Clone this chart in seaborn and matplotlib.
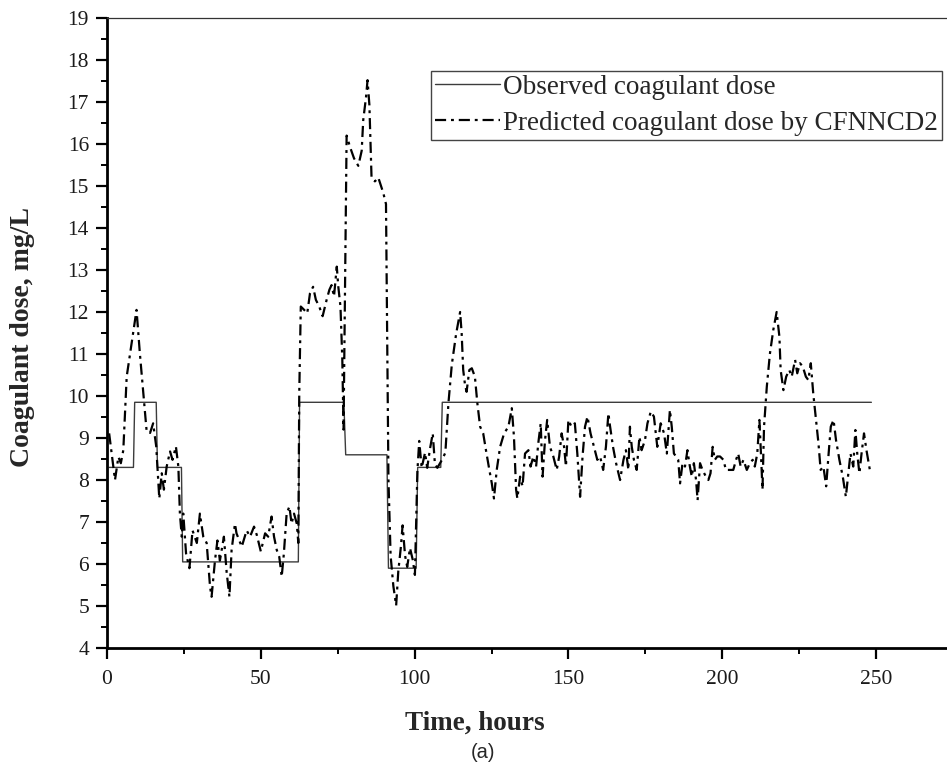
import numpy as np
import pandas as pd
import seaborn as sns
import matplotlib
matplotlib.use("Agg")
import matplotlib.pyplot as plt
from matplotlib.ticker import MultipleLocator

# ---------------- data ----------------
obs_time = [0.7, 8.6, 9.0, 16.0, 16.4, 24.2, 24.6, 62.2, 62.6, 77.0, 77.6,
            91.0, 91.5, 100.5, 101.0, 108.5, 109.0, 248.5]
obs_dose = [8.3, 8.3, 9.85, 9.85, 8.3, 8.3, 6.05, 6.05, 9.85, 9.85, 8.6,
            8.6, 5.9, 5.9, 8.3, 8.3, 9.85, 9.85]

pred_time = [0.7, 2.6, 3.7, 4.5, 5.3, 6.4, 8.0, 9.6, 10.7, 11.8, 12.9, 14.0, 15.0,
             16.0, 17.0, 17.8, 18.5, 19.4, 20.5, 21.3, 22.4, 23.2, 23.7, 24.3,
             24.8, 25.7, 26.8, 27.8, 29.2, 30.2, 31.3, 32.4, 33.5, 34.0, 35.1,
             35.9, 36.7, 38.0, 38.9, 39.8, 40.5, 41.6, 42.1, 43.8, 45.4, 46.5,
             47.8, 48.7, 50.0, 51.4, 52.4, 53.5, 54.3, 55.2, 56.0, 56.8, 57.5,
             58.4, 59.3, 60.0, 60.8, 61.7, 62.2, 62.5, 63.0, 64.1, 65.1, 66.0,
             67.0, 67.9, 69.0, 70.1, 71.4, 72.3, 73.0, 73.8, 74.7, 75.2, 75.9,
             76.5, 76.9, 77.9, 79.0, 80.3, 81.7, 82.8, 83.3, 84.2, 84.7, 85.3,
             86.0, 87.1, 88.2, 89.8, 90.7, 91.5, 92.2, 93.1, 94.0, 94.7, 95.5,
             96.1, 96.9, 97.6, 98.5, 99.4, 100.1, 100.9, 101.5, 102.3, 103.4,
             104.1, 105.0, 105.9, 106.6, 107.4, 108.9, 110.0, 111.0, 112.1,
             113.5, 114.8, 115.3, 115.8, 116.4, 116.9, 117.8, 118.6, 119.6,
             120.4, 121.3, 122.3, 123.2, 124.3, 125.1, 125.8, 126.7, 127.8,
             129.1, 130.5, 131.6, 132.3, 133.0, 133.4, 134.3, 135.1, 135.9,
             137.0, 137.7, 138.6, 139.5, 140.2, 141.0, 141.6, 142.4, 143.1,
             144.0, 145.1, 146.2, 147.0, 147.8, 148.6, 149.2, 150.0, 151.0,
             152.1, 152.9, 153.8, 154.6, 155.4, 156.2, 157.2, 158.3, 159.4,
             160.3, 161.3, 162.2, 163.0, 163.5, 164.5, 165.5, 166.8, 167.9,
             168.7, 169.5, 170.0, 170.6, 171.3, 172.2, 173.1, 173.8, 174.9,
             175.7, 176.8, 177.8, 178.9, 180.0, 181.1, 182.0, 183.0, 183.6,
             184.3, 185.0, 185.7, 186.3, 187.1, 187.9, 188.7, 189.3, 190.1,
             190.8, 191.5, 192.0, 192.8, 193.6, 194.7, 195.5, 196.2, 196.9,
             197.6, 198.4, 199.3, 200.4, 201.2, 202.5, 203.6, 204.5, 205.2,
             206.0, 206.9, 208.0, 209.0, 209.9, 210.6, 211.4, 212.1, 212.5,
             213.1, 213.6, 214.5, 215.5, 216.6, 217.7, 218.6, 219.0, 219.9,
             220.8, 221.8, 222.6, 223.7, 224.4, 225.3, 226.2, 227.2, 228.0,
             228.8, 229.6, 230.5, 231.3, 232.0, 232.9, 233.8, 234.6, 235.3,
             236.2, 237.0, 238.1, 239.2, 240.2, 241.0, 241.7, 242.6, 243.3,
             243.9, 244.6, 245.3, 246.1, 246.9, 248.0]
pred_dose = [9.11, 8.0, 8.55, 8.4, 8.71, 10.46, 11.25, 12.05, 11.0, 10.06, 9.15, 9.12, 9.35,
             8.8, 7.56, 8.16, 7.77, 8.32, 8.68, 8.48, 8.8, 8.32, 7.2, 6.65,
             7.2, 6.25, 5.9, 6.8, 6.5, 7.2, 6.65, 6.5, 5.46, 5.22, 6.08,
             6.56, 6.08, 6.65, 5.8, 5.22, 6.33, 6.96, 6.73, 6.41, 6.8, 6.65,
             6.89, 6.69, 6.3, 6.73, 6.65, 7.13, 6.65, 6.33, 6.17, 5.7, 6.25,
             7.2, 7.37, 6.96, 7.2, 6.96, 6.5, 10.06, 12.13, 12.05, 11.97, 12.45,
             12.6, 12.29, 12.13, 11.9, 12.29, 12.53, 12.64, 12.37, 13.08, 12.6, 12.13,
             10.87, 9.2, 16.2, 15.93, 15.66, 15.48, 15.84, 16.57, 17.11, 17.52, 16.93,
             15.2, 15.11, 15.2, 14.84, 14.57, 8.01, 6.2, 5.47, 5.01, 5.83, 6.38,
             6.92, 6.2, 5.93, 6.38, 6.1, 5.74, 8.2, 8.93, 8.29, 8.65,
             8.29, 8.74, 9.11, 8.38, 8.29, 8.48, 8.65, 9.83, 10.75,
             11.48, 12.0, 11.49, 10.62, 10.26, 10.1, 10.62, 10.66, 10.46,
             9.83, 9.27, 9.11, 8.71, 8.24, 7.92, 7.56, 8.24, 8.79,
             9.11, 9.27, 9.71, 9.03, 7.77, 7.56, 8.08, 7.85, 8.63,
             8.71, 8.32, 8.56, 8.32, 8.87, 9.35, 8.08, 8.95, 9.43,
             8.79, 8.56, 8.24, 8.56, 9.11, 8.79, 8.32, 9.43, 9.27,
             9.35, 8.63, 7.6, 8.56, 9.27, 9.51, 9.11, 8.79, 8.48,
             8.56, 8.24, 8.79, 9.59, 9.3, 8.79, 8.4, 8.0, 8.48,
             8.71, 8.24, 9.27, 8.79, 8.48, 8.24, 9.03, 8.71, 8.95,
             9.35, 9.63, 9.51, 8.79, 9.35, 9.11, 8.63, 9.67, 9.27,
             8.63, 8.56, 8.48, 7.92, 8.4, 8.32, 8.71, 8.4, 8.08,
             8.4, 8.0, 7.52, 8.4, 8.24, 8.08, 8.0, 8.16, 8.79,
             8.48, 8.56, 8.56, 8.48, 8.24, 8.24, 8.24, 8.48, 8.63,
             8.32, 8.48, 8.24, 8.4, 8.48, 8.32, 8.63, 9.43, 8.79,
             7.77, 9.27, 10.22, 11.0, 11.57, 12.0, 11.41, 10.62, 10.14,
             10.46, 10.62, 10.46, 10.86, 10.54, 10.78, 10.7, 10.46, 10.38,
             10.78, 10.06, 9.43, 8.87, 8.24, 8.32, 7.85, 8.63, 9.27,
             9.43, 8.95, 8.48, 8.08, 7.6, 8.16, 8.63, 8.32, 9.19,
             8.63, 8.16, 8.63, 9.11, 8.71, 8.24]

x_ticks = [0, 50, 100, 150, 200, 250]
y_ticks = list(range(4, 20))

# ---------------- styling ----------------
sns.set_style("ticks")
plt.rcParams["font.family"] = ["Liberation Serif", "DejaVu Serif"]

W, H = 947, 767
fig = plt.figure(figsize=(W / 100, H / 100), dpi=100)
ax = fig.add_axes([107 / W, 1 - 648 / H, 840 / W, 630 / H])

obs_df = pd.DataFrame({"Time": obs_time, "Dose": obs_dose})
pred_df = pd.DataFrame({"Time": pred_time, "Dose": pred_dose})

sns.lineplot(data=obs_df, x="Time", y="Dose", ax=ax, estimator=None, sort=False,
             color="#3c3c3c", linewidth=1.0, label="Observed coagulant dose")
sns.lineplot(data=pred_df, x="Time", y="Dose", ax=ax, estimator=None, sort=False,
             color="black", linewidth=1.6, linestyle=(0, (5, 2.2, 1.3, 2.2)),
             label="Predicted coagulant dose by CFNNCD2")

ax.set_xlim(0, 840 / 3.076)
ax.set_ylim(4, 19)
ax.set_xticks(x_ticks)
ax.set_yticks(y_ticks)
ax.xaxis.set_minor_locator(MultipleLocator(25))
ax.yaxis.set_minor_locator(MultipleLocator(0.5))

for s in ["left", "bottom"]:
    ax.spines[s].set_linewidth(2.0)
    ax.spines[s].set_color("black")
ax.spines["top"].set_linewidth(0.9)
ax.spines["top"].set_color("#333333")
ax.spines["right"].set_visible(False)

ax.tick_params(axis="both", which="major", direction="out", length=8, width=1.6,
               labelsize=15.5, color="black", pad=5)
ax.tick_params(axis="both", which="minor", direction="out", length=4.5, width=1.4,
               color="black")
ax.tick_params(axis="x", which="major", pad=8)
ax.tick_params(top=False, right=False, which="both")
for lab in ax.get_xticklabels() + ax.get_yticklabels():
    lab.set_color("#1a1a1a")

ax.set_xlabel("Time, hours", fontsize=19.5, fontweight="bold")
ax.set_ylabel("Coagulant dose, mg/L", fontsize=20, fontweight="bold")
ax.xaxis.set_label_coords((475 - 107) / 840, (648 - 723) / 630)
ax.yaxis.set_label_coords((23 - 107) / 840, (648 - 337) / 630)
ax.xaxis.label.set_verticalalignment("center")
ax.yaxis.label.set_verticalalignment("center")

leg = ax.legend(loc="upper left", bbox_to_anchor=((431 - 107) / 840, (648 - 70.5) / 630),
                borderaxespad=0, frameon=True, fancybox=False, shadow=False,
                edgecolor="#444444", framealpha=1, fontsize=19.5,
                handlelength=2.4, handletextpad=0.1, borderpad=0.15,
                labelspacing=0.42)
leg.get_frame().set_linewidth(1.0)

fig.text(483 / W, 1 - 753 / H, "(a)", ha="center", va="center",
         fontsize=14.5, family=["Liberation Sans", "DejaVu Sans"])

fig.savefig("out.png", dpi=100)
